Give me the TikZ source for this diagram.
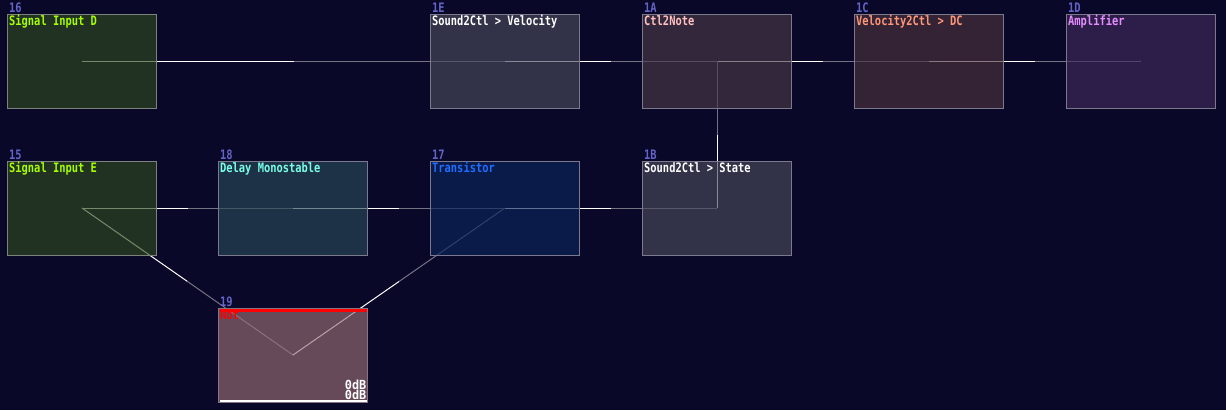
\documentclass[tikz,border=0pt]{standalone}
\usepackage{fontspec}
\newfontfamily\pxfont[FakeStretch=0.8]{DejaVu Sans Mono}
\newfontfamily\pxwide[FakeStretch=0.95]{DejaVu Sans Mono}
\usetikzlibrary{calc}
\pgfdeclarelayer{bglayer}
\pgfdeclarelayer{wirelayer}
\pgfsetlayers{bglayer,wirelayer,main}
\definecolor{bgc}{RGB}{10,8,40}
\definecolor{idc}{RGB}{100,100,200}
\definecolor{wgray}{RGB}{115,115,132}
\definecolor{bordg}{RGB}{125,130,125}
\definecolor{bordb}{RGB}{122,122,140}
\definecolor{bordp}{RGB}{140,115,132}
\definecolor{fgreen}{RGB}{47,74,31}
\definecolor{fslate}{RGB}{72,74,91}
\definecolor{fplum}{RGB}{73,57,72}
\definecolor{fwine}{RGB}{76,50,60}
\definecolor{fviolet}{RGB}{65,42,92}
\definecolor{fteal}{RGB}{41,74,88}
\definecolor{fnavy}{RGB}{10,37,92}
\definecolor{fpink}{RGB}{152,110,118}
\definecolor{tgreen}{RGB}{165,255,0}
\definecolor{tpink}{RGB}{255,192,192}
\definecolor{tsalmon}{RGB}{255,150,120}
\definecolor{tviolet}{RGB}{230,140,255}
\definecolor{tcyan}{RGB}{120,255,230}
\definecolor{tblue}{RGB}{30,110,255}
\newcommand\mywire[2]{%
  \draw[wirew] (#1.center) -- ($(#1.center)!0.5!(#2.center)$);
  \draw[wireg] ($(#1.center)!0.5!(#2.center)$) -- (#2.center);}
\begin{document}
\begin{tikzpicture}[x=1pt,y=-1pt,
  box/.style={rectangle,minimum width=149pt,minimum height=94pt,inner sep=0pt,line width=1pt,fill opacity=0.65,draw opacity=1},
  lbl/.style={inner sep=0pt,anchor=base west,font=\pxfont\bfseries\fontsize{13}{13}\selectfont},
  idlbl/.style={lbl,text=idc},
  gainlbl/.style={inner sep=0pt,anchor=base east,text=white,font=\pxwide\bfseries\fontsize{12.5}{12.5}\selectfont},
  wirew/.style={white,line width=1pt},
  wireg/.style={wgray,line width=1pt}]
\begin{pgfonlayer}{bglayer}
\fill[bgc] (0,0) rectangle (1226,410);
\end{pgfonlayer}
\useasboundingbox (0,0) rectangle (1226,410);
% boxes
\node[box,draw=bordg,fill=fgreen]  (n16) at (82,61)   {};
\node[box,draw=bordb,fill=fslate]  (n1E) at (505,61)  {};
\node[box,draw=bordb,fill=fplum]   (n1A) at (717,61)  {};
\node[box,draw=bordb,fill=fwine]   (n1C) at (929,61)  {};
\node[box,draw=bordb,fill=fviolet] (n1D) at (1141,61) {};
\node[box,draw=bordg,fill=fgreen]  (n15) at (82,208)  {};
\node[box,draw=bordb,fill=fteal]   (n18) at (293,208) {};
\node[box,draw=bordb,fill=fnavy]   (n17) at (505,208) {};
\node[box,draw=bordb,fill=fslate]  (n1B) at (717,208) {};
\node[box,draw=bordp,fill=fpink]   (n19) at (293,355) {};
% bars of 19
\fill[red] ($(n19.north west)+(2,1.5)$) rectangle ($(n19.north east)+(-1.5,4)$);
\fill[white] ($(n19.south west)+(2,-2.6)$) rectangle ($(n19.south east)+(-1.5,-1)$);
% ids
\node[idlbl] (i16) at ($(n16.north west)+(2,-1)$) {16};
\node[idlbl] (i1E) at ($(n1E.north west)+(2,-1)$) {1E};
\node[idlbl] (i1A) at ($(n1A.north west)+(2,-1)$) {1A};
\node[idlbl] (i1C) at ($(n1C.north west)+(2,-1)$) {1C};
\node[idlbl] (i1D) at ($(n1D.north west)+(2,-1)$) {1D};
\node[idlbl] (i15) at ($(n15.north west)+(2,-1)$) {15};
\node[idlbl] (i18) at ($(n18.north west)+(2,-1)$) {18};
\node[idlbl] (i17) at ($(n17.north west)+(2,-1)$) {17};
\node[idlbl] (i1B) at ($(n1B.north west)+(2,-1)$) {1B};
\node[idlbl] (i19) at ($(n19.north west)+(2,-1)$) {19};
% titles
\node[lbl,text=tgreen]  (l16) at ($(n16.north west)+(2,12)$) {Signal Input D};
\node[lbl,text=white]   (l1E) at ($(n1E.north west)+(2,12)$) {Sound2Ctl > Velocity};
\node[lbl,text=tpink]   (l1A) at ($(n1A.north west)+(2,12)$) {Ctl2Note};
\node[lbl,text=tsalmon] (l1C) at ($(n1C.north west)+(2,12)$) {Velocity2Ctl > DC};
\node[lbl,text=tviolet] (l1D) at ($(n1D.north west)+(2,12)$) {Amplifier};
\node[lbl,text=tgreen]  (l15) at ($(n15.north west)+(2,12)$) {Signal Input E};
\node[lbl,text=tcyan]   (l18) at ($(n18.north west)+(2,12)$) {Delay Monostable};
\node[lbl,text=tblue]   (l17) at ($(n17.north west)+(2,12)$) {Transistor};
\node[lbl,text=white]   (l1B) at ($(n1B.north west)+(2,12)$) {Sound2Ctl > State};
\node[lbl,text=red]     (l19) at ($(n19.north west)+(2,12)$) {Not};
\node[gainlbl] (g1) at ($(n19.south east)+(-1.5,-13)$) {0dB};
\node[gainlbl] (g2) at ($(n19.south east)+(-1.5,-3)$) {0dB};
% wires
\begin{pgfonlayer}{wirelayer}
\mywire{n16}{n1E}
\mywire{n1E}{n1A}
\mywire{n1A}{n1C}
\mywire{n1C}{n1D}
\mywire{n15}{n18}
\mywire{n18}{n17}
\mywire{n17}{n1B}
\mywire{n1B}{n1A}
\mywire{n15}{n19}
\mywire{n19}{n17}
\end{pgfonlayer}
\end{tikzpicture}
\end{document}
